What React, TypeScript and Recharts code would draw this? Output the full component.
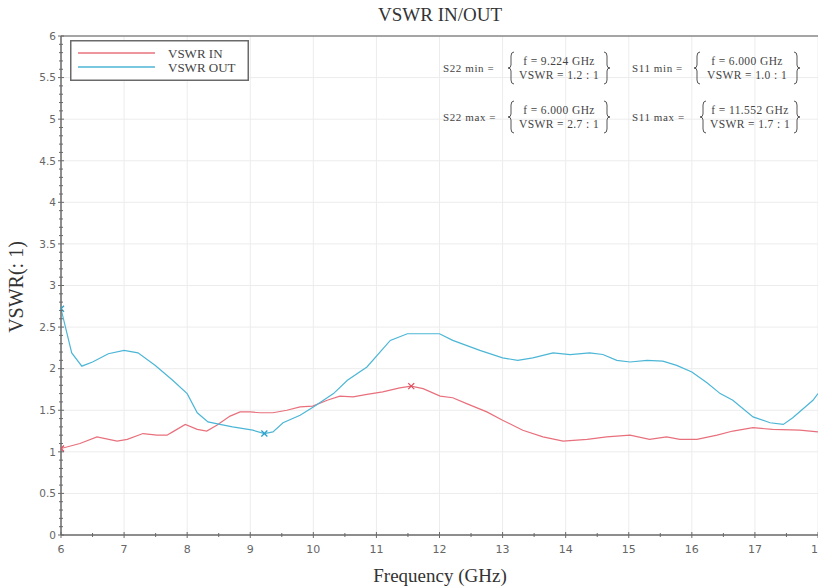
import React from 'react';
import { ComposedChart, Line, Scatter, XAxis, YAxis, CartesianGrid, Legend, ReferenceLine } from 'recharts';

const freqIn = [6.0, 6.3, 6.57, 6.89, 7.05, 7.3, 7.52, 7.68, 7.77, 7.97, 8.16, 8.31, 8.47, 8.68, 8.84, 9.0, 9.15, 9.36, 9.58, 9.79, 9.99, 10.22, 10.42, 10.63, 10.85, 11.1, 11.37, 11.552, 11.74, 12.01, 12.21, 12.43, 12.75, 13.0, 13.32, 13.64, 13.96, 14.34, 14.65, 15.02, 15.33, 15.6, 15.81, 16.08, 16.4, 16.65, 16.97, 17.28, 17.71, 18.0];
const vswrIn = [1.04, 1.1, 1.18, 1.13, 1.15, 1.22, 1.2, 1.2, 1.24, 1.33, 1.27, 1.25, 1.32, 1.43, 1.48, 1.48, 1.47, 1.47, 1.5, 1.54, 1.55, 1.62, 1.67, 1.66, 1.69, 1.72, 1.77, 1.79, 1.76, 1.67, 1.65, 1.58, 1.48, 1.38, 1.26, 1.18, 1.13, 1.15, 1.18, 1.2, 1.15, 1.18, 1.15, 1.15, 1.2, 1.25, 1.29, 1.27, 1.26, 1.24];

const freqOut = [6.0, 6.17, 6.33, 6.5, 6.75, 7.0, 7.22, 7.49, 7.77, 8.0, 8.16, 8.33, 8.52, 8.72, 9.04, 9.224, 9.36, 9.52, 9.79, 10.0, 10.32, 10.54, 10.85, 11.22, 11.49, 12.0, 12.21, 12.64, 13.0, 13.24, 13.48, 13.8, 14.07, 14.38, 14.59, 14.81, 15.02, 15.29, 15.54, 15.76, 16.0, 16.24, 16.45, 16.65, 16.97, 17.24, 17.45, 17.6, 17.92, 18.0];
const vswrOut = [2.72, 2.19, 2.03, 2.08, 2.18, 2.22, 2.19, 2.04, 1.86, 1.7, 1.47, 1.36, 1.33, 1.3, 1.26, 1.22, 1.24, 1.35, 1.44, 1.54, 1.7, 1.86, 2.02, 2.34, 2.42, 2.42, 2.34, 2.22, 2.13, 2.1, 2.13, 2.19, 2.17, 2.19, 2.17, 2.1, 2.08, 2.1, 2.09, 2.04, 1.96, 1.83, 1.7, 1.62, 1.42, 1.35, 1.33, 1.41, 1.62, 1.7];

// min / max markers
const markIn = [{ f: 6.0, v: 1.04 }, { f: 11.552, v: 1.79 }];
const markOut = [{ f: 6.0, v: 2.72 }, { f: 9.224, v: 1.22 }];

const xMajor = [6, 7, 8, 9, 10, 11, 12, 13, 14, 15, 16, 17, 18];
const yMajor = [0, 0.5, 1, 1.5, 2, 2.5, 3, 3.5, 4, 4.5, 5, 5.5, 6];
const xTicks = xMajor.flatMap((t) => (t < 18 ? [t, t + 0.5] : [t]));
const yTicks = yMajor.flatMap((t) => (t < 6 ? [0, 1, 2, 3, 4].map((k) => Math.round((t + k * 0.1) * 10) / 10) : [t]));

const RED = '#e8707c';
const BLUE = '#4cb6d6';
const AXIS = '#6a6a6a';
const SERIF = '"Liberation Serif", "DejaVu Serif", serif';
const SANS = '"DejaVu Sans", sans-serif';

const dataIn = freqIn.map((f, i) => ({ f, v: vswrIn[i] }));
const dataOut = freqOut.map((f, i) => ({ f, v: vswrOut[i] }));

function YTick({ x, y, payload }: any) {
  const v = payload.value;
  const major = Math.abs(v * 2 - Math.round(v * 2)) < 1e-6;
  const len = major ? 3 : 2;
  return (
    <g>
      <line x1={x - len} x2={x + len} y1={y} y2={y} stroke={AXIS} strokeWidth={1} />
      {major && (
        <text x={x - 5} y={y} dy={3.8} textAnchor="end" fontSize={10.5} fontFamily={SANS} fill="#666">
          {String(Math.round(v * 10) / 10)}
        </text>
      )}
    </g>
  );
}

function XTick({ x, y, payload }: any) {
  const v = payload.value;
  const major = Math.abs(v - Math.round(v)) < 1e-6;
  const len = major ? 3 : 2;
  return (
    <g>
      <line x1={x} x2={x} y1={y - len} y2={y + len} stroke={AXIS} strokeWidth={1} />
      {major && (
        <text x={x} y={y + 18} textAnchor="middle" fontSize={11} fontFamily={SANS} fill="#666">
          {v}
        </text>
      )}
    </g>
  );
}

function Cross({ cx, cy, fill }: any) {
  const s = 3;
  return (
    <path d={`M${cx - s},${cy - s}L${cx + s},${cy + s}M${cx - s},${cy + s}L${cx + s},${cy - s}`} stroke={fill} strokeWidth={1.3} />
  );
}

const legendItems = [
  { name: 'VSWR IN', color: RED },
  { name: 'VSWR OUT', color: BLUE },
];

function LegendBox() {
  return (
    <svg width={179} height={41} style={{ display: 'block' }}>
      <rect x={0.75} y={0.75} width={177.5} height={39.5} fill="#fff" stroke={AXIS} strokeWidth={1.5} />
      {legendItems.map((it, i) => (
        <g key={it.name}>
          <line x1={8} x2={85} y1={13 + i * 14} y2={13 + i * 14} stroke={it.color} strokeWidth={1.3} />
          <text x={98} y={17.5 + i * 14} fontFamily={SERIF} fontSize={13} fill="#444">{it.name}</text>
        </g>
      ))}
    </svg>
  );
}

function Brace({ x, top, bottom, dir }: { x: number; top: number; bottom: number; dir: 1 | -1 }) {
  const m = (top + bottom) / 2;
  const d = 3 * dir;
  const p = `M${x + d},${top} Q${x},${top} ${x},${top + 4} L${x},${m - 3} Q${x},${m} ${x - d},${m} Q${x},${m} ${x},${m + 3} L${x},${bottom - 4} Q${x},${bottom} ${x + d},${bottom}`;
  return <path d={p} fill="none" stroke="#555" strokeWidth={1} />;
}

function Annot({ label, lx, bl, br, cy, line1, line2 }: any) {
  const cx = (bl + br) / 2;
  return (
    <g fontFamily={SERIF} fill="#444">
      <text x={lx} y={cy + 4} fontSize={11} letterSpacing={0.6}>{label}</text>
      <Brace x={bl} top={cy - 16} bottom={cy + 16} dir={1} />
      <Brace x={br} top={cy - 16} bottom={cy + 16} dir={-1} />
      <text x={cx} y={cy - 3} fontSize={11.5} textAnchor="middle" letterSpacing={0.4}>{line1}</text>
      <text x={cx} y={cy + 11} fontSize={11.5} textAnchor="middle" letterSpacing={0.4}>{line2}</text>
    </g>
  );
}

export default function App() {
  return (
    <div style={{ position: 'absolute', left: 0, top: 0, width: 818, height: 588, background: '#fff' }}>
      <ComposedChart width={818} height={588} margin={{ top: 36, right: 0, bottom: 23, left: 11 }}>
        <CartesianGrid stroke="#ececec" strokeWidth={1} horizontalValues={yMajor} verticalValues={xMajor} />
        <XAxis
          dataKey="f"
          type="number"
          domain={[6, 18]}
          ticks={xTicks}
          interval={0}
          allowDataOverflow
          height={30}
          tickSize={0}
          tickMargin={0}
          tickLine={false}
          tick={<XTick />}
          axisLine={{ stroke: AXIS, strokeWidth: 1.5 }}
        />
        <YAxis
          dataKey="v"
          type="number"
          domain={[0, 6]}
          ticks={yTicks}
          interval={0}
          allowDataOverflow
          width={50}
          tickSize={0}
          tickMargin={0}
          tickLine={false}
          tick={<YTick />}
          axisLine={{ stroke: AXIS, strokeWidth: 1.5 }}
        />
        <ReferenceLine y={6} stroke="#8a8a8a" strokeWidth={1.5} />
        <Legend
          layout="vertical"
          align="center"
          verticalAlign="middle"
          content={<LegendBox />}
          wrapperStyle={{ position: 'absolute', left: 70, top: 40, width: 179, height: 41 }}
        />
        <Line data={dataIn} dataKey="v" type="linear" stroke={RED} strokeWidth={1.2} dot={false} activeDot={false} isAnimationActive={false} name="VSWR IN" />
        <Line data={dataOut} dataKey="v" type="linear" stroke={BLUE} strokeWidth={1.2} dot={false} activeDot={false} isAnimationActive={false} name="VSWR OUT" />
        <Scatter data={markIn} dataKey="v" fill="#e05060" shape={<Cross />} isAnimationActive={false} legendType="none" />
        <Scatter data={markOut} dataKey="v" fill="#2aa2cc" shape={<Cross />} isAnimationActive={false} legendType="none" />
      </ComposedChart>
      <svg width={818} height={588} style={{ position: 'absolute', left: 0, top: 0, pointerEvents: 'none' }}>
        <text x={440} y={21} textAnchor="middle" fontFamily={SERIF} fontSize={19} fill="#333">VSWR IN/OUT</text>
        <text x={440} y={582} textAnchor="middle" fontFamily={SERIF} fontSize={19} fill="#333">Frequency (GHz)</text>
        <text transform="translate(23,287) rotate(-90)" textAnchor="middle" fontFamily={SERIF} fontSize={20} fill="#333">VSWR(: 1)</text>
        <Annot label="S22 min =" lx={443} bl={511} br={607} cy={68} line1="f = 9.224 GHz" line2="VSWR = 1.2 : 1" />
        <Annot label="S11 min =" lx={632} bl={697} br={797} cy={68} line1="f = 6.000 GHz" line2="VSWR = 1.0 : 1" />
        <Annot label="S22 max =" lx={443} bl={511} br={607} cy={117} line1="f = 6.000 GHz" line2="VSWR = 2.7 : 1" />
        <Annot label="S11 max =" lx={632} bl={703} br={797} cy={117} line1="f = 11.552 GHz" line2="VSWR = 1.7 : 1" />
      </svg>
    </div>
  );
}
